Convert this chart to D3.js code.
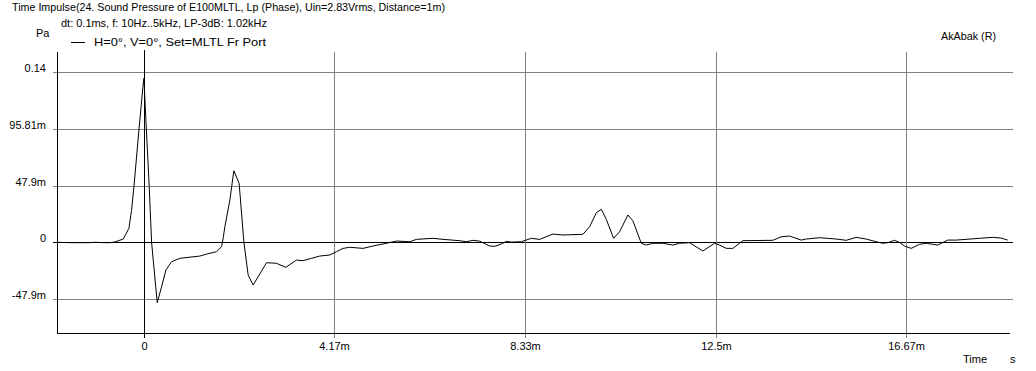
<!DOCTYPE html>
<html>
<head>
<meta charset="utf-8">
<script src="https://cdn.jsdelivr.net/npm/d3@7"></script>
<style>
  body { margin: 0; background: #fff; }
  text { font-family: "Liberation Sans", Arial, sans-serif; font-size: 11px; fill: #000; }
</style>
</head>
<body>
<div id="my_dataviz"></div>
<script>
// time in ms, pressure in mPa
var timeMs = [-1.90, -1.573, -1.202, -1.071, -0.852, -0.743, -0.634, -0.452, -0.328, -0.27, -0.218, -0.109, -0.022, 0, 0.044, 0.116, 0.168, 0.291, 0.387, 0.481, 0.605, 0.787, 1.224, 1.370, 1.588, 1.698, 1.735, 1.770, 1.879, 1.966, 2.082, 2.185, 2.279, 2.388, 2.681, 2.899, 3.102, 3.336, 3.480, 3.664, 3.845, 4.064, 4.210, 4.354, 4.501, 4.791, 5.010, 5.303, 5.521, 5.812, 5.958, 6.321, 6.539, 6.904, 7.050, 7.195, 7.341, 7.560, 7.669, 7.815, 7.925, 8.034, 8.252, 8.471, 8.652, 8.943, 9.161, 9.598, 9.744, 9.891, 10.000, 10.109, 10.269, 10.400, 10.581, 10.690, 10.874, 10.983, 11.127, 11.346, 11.564, 11.711, 11.929, 12.220, 12.475, 12.585, 12.731, 12.875, 13.094, 13.749, 13.933, 14.114, 14.370, 14.479, 14.770, 15.134, 15.353, 15.571, 15.790, 16.008, 16.152, 16.262, 16.408, 16.517, 16.626, 16.774, 16.955, 17.101, 17.354, 17.573, 17.756, 17.975, 18.265, 18.556, 18.740, 18.884];
var pressure = [0, -0.3, -0.3, 0, -0.3, -0.3, 0.3, 2.8, 11.8, 27, 47, 94.9, 131, 138.5, 103, 47, 0, -51, -37.5, -23.4, -16.4, -13.5, -11.6, -9.9, -7.9, -3.7, 4, 13.2, 35.7, 60.5, 49.8, 0.5, -27.6, -36.1, -17.2, -17.7, -21.1, -15, -15.5, -13.5, -11.6, -10.7, -7.9, -5.1, -4.2, -5.1, -3.1, -0.8, 1.1, 0.5, 2.5, 3.4, 2.5, 1.4, 0.5, 1.7, 1.0, -3.1, -3.4, -1.4, 0.8, 0.2, 0.5, 3.4, 2.5, 7, 6.2, 6.8, 13.2, 25, 27.9, 19.4, 3.4, 9, 23.1, 18.2, -0.8, -2.3, -0.8, -0.8, -2.3, -0.8, -0.3, -7.3, -0.8, -2.3, -5.1, -5.1, 1.4, 1.7, 4.7, 5.3, 1.9, 2.8, 3.9, 2.8, 1.7, 4.2, 2.8, 0.5, -0.8, -0.3, 1.7, 0, -3.1, -5.1, -1.7, -0.8, -2.3, 1.9, 1.9, 2.5, 3.4, 4.2, 3.6, 1.9];

var xTicks = [0, 25 / 6, 50 / 6, 12.5, 100 / 6];
var xTickLabels = ["0", "4.17m", "8.33m", "12.5m", "16.67m"];
var yTicks = [-47.9, 0, 47.9, 95.81, 143.71];
var yTickLabels = ["-47.9m", "0", "47.9m", "95.81m", "0.14"];

var titleText = "Time Impulse(24. Sound Pressure of E100MLTL, Lp (Phase), Uin=2.83Vrms, Distance=1m)";
var infoText = "dt: 0.1ms, f: 10Hz..5kHz, LP-3dB: 1.02kHz";
var legendText = "H=0°, V=0°, Set=MLTL Fr Port";

var data = timeMs.map(function(t, i) { return {t: t, p: pressure[i]}; });

var W = 1036, H = 371;
var plotLeft = 57, plotRight = 1013, plotTop = 52, plotBottom = 333;

var svg = d3.select("#my_dataviz")
  .append("svg")
    .attr("width", W)
    .attr("height", H);

var x = d3.scaleLinear().domain([-1.9, 19.0]).range([plotLeft, plotRight]);
var y = d3.scaleLinear().domain([-76.6, 160.8]).range([plotBottom, plotTop]);

function crisp(v) { return Math.round(v) + 0.5; }

// horizontal grid + left ticks
yTicks.forEach(function(v, i) {
  var yy = crisp(y(v));
  svg.append("line")
    .attr("x1", plotLeft - 4).attr("x2", plotRight)
    .attr("y1", yy).attr("y2", yy)
    .attr("stroke", v === 0 ? "#000" : "#808080")
    .attr("shape-rendering", "crispEdges");
  svg.append("text")
    .attr("x", 46).attr("y", yy - 1)
    .attr("text-anchor", "end")
    .text(yTickLabels[i]);
});

// vertical grid + bottom ticks
xTicks.forEach(function(v, i) {
  var xx = crisp(x(v));
  svg.append("line")
    .attr("x1", xx).attr("x2", xx)
    .attr("y1", v === 0 ? plotTop - 2 : plotTop).attr("y2", plotBottom + 5)
    .attr("stroke", v === 0 ? "#000" : "#808080")
    .attr("shape-rendering", "crispEdges");
  svg.append("text")
    .attr("x", xx).attr("y", 350)
    .attr("text-anchor", "middle")
    .text(xTickLabels[i]);
});

// axes
svg.append("line")
  .attr("x1", crisp(plotLeft)).attr("x2", crisp(plotLeft))
  .attr("y1", plotTop).attr("y2", crisp(plotBottom))
  .attr("stroke", "#000").attr("shape-rendering", "crispEdges");
svg.append("line")
  .attr("x1", crisp(plotLeft)).attr("x2", 1010)
  .attr("y1", crisp(plotBottom)).attr("y2", crisp(plotBottom))
  .attr("stroke", "#000").attr("shape-rendering", "crispEdges");

// the curve
svg.append("path")
  .datum(data)
  .attr("fill", "none")
  .attr("stroke", "#000")
  .attr("stroke-width", 1)
  .attr("d", d3.line()
    .x(function(d) { return x(d.t); })
    .y(function(d) { return y(d.p); })
  );

// header texts
svg.append("text").attr("x", 12).attr("y", 11).attr("textLength", 433).attr("lengthAdjust", "spacingAndGlyphs").text(titleText);
svg.append("text").attr("x", 61).attr("y", 27).attr("textLength", 206).attr("lengthAdjust", "spacingAndGlyphs").text(infoText);
svg.append("text").attr("x", 36).attr("y", 37).text("Pa");
svg.append("line")
  .attr("x1", 71).attr("x2", 85)
  .attr("y1", 42.5).attr("y2", 42.5)
  .attr("stroke", "#000");
svg.append("text").attr("x", 94).attr("y", 46).attr("textLength", 172).attr("lengthAdjust", "spacingAndGlyphs").text(legendText);
svg.append("text").attr("x", 941).attr("y", 40).attr("textLength", 55).attr("lengthAdjust", "spacingAndGlyphs").text("AkAbak (R)");
svg.append("text").attr("x", 963).attr("y", 363).text("Time");
svg.append("text").attr("x", 1010).attr("y", 363).text("s");
</script>
</body>
</html>
